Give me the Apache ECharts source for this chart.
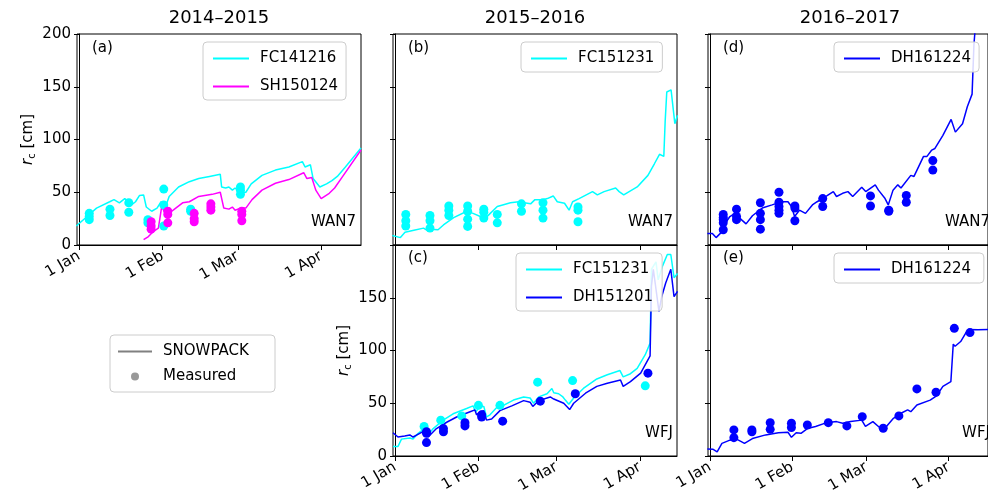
<!DOCTYPE html>
<html>
<head>
<meta charset="utf-8">
<script src="https://cdn.jsdelivr.net/npm/echarts@6/dist/echarts.min.js"></script>
<style>html,body{margin:0;padding:0;background:#fff;}#main{width:988px;height:502px;}</style>
</head>
<body>
<div id="main"></div>
<script>
// days since 1 Jan, value in cm
var fc141216 = [[-1,18],[3,27],[6.5,35],[11.4,41],[13,43],[15,40],[17,44],[19.5,38],[21,41],[22.5,47],[24,47.5],[25,36],[27,32],[29,35],[30.5,41],[32,35],[33.5,46],[37,55],[41,60],[44.5,63],[48.5,65],[52.5,67],[53,55],[54.5,54],[55.7,55],[57,52],[58,54],[60,49],[62,50],[64,58],[68,66],[73,71],[78,74],[83,79],[84,74],[86,76],[87,63],[89.5,55],[92,58],[94,61],[96,65],[99,74],[104.8,92]];
var sh150124 = [[24,5],[25.8,8],[27.7,13],[29.5,16],[30.7,36],[32.5,29],[35,33],[38.5,40],[41,41],[44.5,46],[49.5,48],[52.5,50],[53.8,35],[55.7,34],[57,36],[58,33],[60,35],[62,35],[64.3,43],[68,52],[73,58.5],[78,62],[83.5,68.5],[84.7,63],[86.5,64],[88,52],[90,44],[93,49],[95,54],[98,65],[104.8,90]];
var measFc141216 = [[3.8,30],[3.8,27],[3.8,24],[11.5,34],[11.5,28],[18.5,40],[18.5,31],[25.6,24],[25.6,21],[31.5,53],[31.5,38],[31.5,18],[41.5,34],[41.5,32],[60,55],[60,52],[60,48]];
var measSh150124 = [[26.8,22],[26.8,18],[26.8,15],[33,32],[33,29],[33,21],[42.8,30],[42.8,25],[42.8,22],[49,39],[49,36],[49,33],[60.5,32],[60.5,29],[60.5,23]];

var fc151231Wan = [[-1,9],[2,7],[3.7,12],[7,14],[10.6,16],[11.8,14],[13,15],[16,14.5],[18,19],[21.8,26],[26.7,32],[29,30],[31.7,27],[33.6,25.5],[35.4,30],[38,36.5],[40,38],[42.9,40],[46,41],[48,40],[50.4,39],[52,43],[55,43],[56.6,44],[58.8,46.5],[60.3,41],[63,39.6],[64.7,33],[66,41],[68.4,44],[73.4,50.6],[75.2,47.5],[77.7,50.6],[82,54],[83.3,50.6],[85,47.5],[86.4,49.7],[90,55],[94,66],[96.4,77],[98.3,86],[99.9,84],[100.4,117],[101,145],[102.6,147],[103.2,146],[104,115],[105,123]];
var measFc151231Wan = [[4,29],[4,23],[4,18],[13,28],[13,23],[13,16],[20,37],[20,33],[20,28],[27,37],[27,32],[27,24.5],[27,17.6],[33,34],[33,31],[33,25.5],[38,29],[38,21],[47,39],[47,32],[55,40],[55,33],[55,25.5],[68,36],[68,33],[68,22]];

var fc151231Wfj = [[-0.75,9],[1.1,9],[2.4,16],[5.5,17],[6.7,16],[8.6,21.5],[10.4,25],[11.7,18],[14.2,26],[17.9,34],[21.6,40],[26.6,45],[29,47.5],[30,42],[31.6,47],[33,47],[34,37],[35.3,39],[37.8,46],[40.3,48],[44,53],[47.8,56],[50.2,55],[51.5,50],[53.4,56],[56.5,59],[58.3,64],[59,60],[60.8,59],[62.4,56],[63.3,53],[64.6,49],[66.4,55],[70,64],[75,73],[78.9,77],[83.6,81],[84.8,75],[87.5,78],[90,83],[93,96],[94.8,107],[95.3,177],[97,184],[97.8,167],[99.4,180],[101.2,191],[102.5,191],[103.7,169],[105,173]];
var dh151201 = [[-0.75,22],[1.1,18],[3.6,19],[5.5,20],[6.7,18],[9.2,21.5],[11,24],[12.3,18],[15.4,26],[19.2,32],[22.9,37],[27.9,42],[29.7,43.7],[30.3,39],[31.6,42],[33,43],[34,34],[35.9,35],[39,43],[43.4,47.5],[47.8,52.5],[50.2,51],[51.2,47],[53.4,52.5],[57.7,56],[59,54],[62.7,50],[64.9,44],[66.4,50],[70.8,59.5],[75,66],[78.9,69],[83.8,72],[84.8,66],[87.5,70.5],[91.3,78.5],[94.8,95],[95.3,161],[96,177],[98.1,137],[99.1,151],[100.6,164],[102.5,177],[103.7,151],[105,156]];
var measFc151231Wfj = [[10.8,28],[17,34],[24.8,38],[31,48],[39,48],[53,70],[66,71.5],[93,66.5]];
var measDh151201 = [[11.7,23],[11.7,21.5],[11.7,12.7],[18,26],[18,23],[26,31.6],[26,28.5],[32.2,39],[32.2,37],[40,33],[54,52],[67,59],[94,78.5]];

var dh161224Wan = [[-1,11],[0.9,11],[2.3,7],[3.9,11],[5,17.6],[7.5,27],[9.4,30],[11.2,25.5],[13.6,20],[16,27.7],[19.7,35],[23.4,38],[27,41],[29.4,41],[30.7,36.5],[31.9,27],[33.7,33],[36,30],[38.6,38],[40.4,41],[44,46.5],[46.5,50.6],[47.7,46],[50,49],[52,50.6],[53.8,46],[57.2,54.7],[58.7,50.6],[62.3,57],[63.5,52],[66,44],[67.2,38],[69,52],[70.8,57],[72,54],[75.7,66],[76.9,65],[80.5,84],[81.8,84],[83.6,90],[84.8,91.5],[87.8,104],[90.9,119],[92.5,107],[95.2,115],[97,131],[98.8,143],[99.5,190],[100,206],[102,230],[105,240]];
var measDh161224Wan = [[5,29],[5,26],[5,24],[5,21],[5,14.5],[10,34],[10,27],[10,24],[19,40],[19,30],[19,24],[19,15],[26,50],[26,40.5],[26,36.5],[26,33],[26,30],[32,37],[32,35],[32,23],[42.5,44],[42.5,36.5],[60.5,46.5],[60.5,37],[67.4,33],[67.4,32],[74,47],[74,40.5],[84,80],[84,71]];
var dh161224Wfj = [[-1,6.6],[1.2,6.3],[2.7,4],[4.5,12],[7.5,15],[10,16],[11.8,13.6],[13,12],[16,16.5],[21,20],[25.8,22],[29.4,22.5],[30.7,17.7],[32.5,22],[34.3,21.5],[36.7,26],[39.8,28],[44,31.6],[47.7,32.6],[50,31],[53,32.6],[57.2,34],[58.6,28],[61.4,32.6],[63.5,28],[65,24.7],[66.5,28],[69,35.4],[72,40.5],[74.5,43.7],[75.7,42],[78,48.4],[83,53],[85.4,57],[87.8,66],[90.8,70.5],[91.7,106],[92.4,104],[94.5,108.5],[96.4,116.5],[97.6,120],[101,119.6],[105,120]];
var measDh161224Wfj = [[9,24.7],[9,17.4],[15.8,24.7],[15.8,23],[22.7,31.6],[22.7,25.3],[30.7,31],[30.7,27],[36.7,29.4],[44.6,31.6],[51.6,28.5],[57.4,37.3],[65.3,26.3],[71.2,38],[78,63.6],[85.2,60.4],[92.1,121],[98,117]];

var monthLabels = ['1 Jan', '1 Feb', '1 Mar', '1 Apr'];
var monthDays2015 = [0, 31, 59, 90];
var monthDays2016 = [0, 31, 60, 91];
var monthDays2017 = [0, 31, 59, 90];

var CYAN = '#00ffff', MAG = '#ff00ff', BLUE = '#0000ff';
var FONT = 'DejaVu Sans';

var chart = echarts.init(document.getElementById('main'));

var grids = [
    {left: 77, top: 34, width: 284, height: 211},
    {left: 393, top: 34, width: 284, height: 211},
    {left: 708, top: 34, width: 284, height: 211},
    {left: 393, top: 245, width: 284, height: 211},
    {left: 708, top: 245, width: 284, height: 211}
];
grids.forEach(function(g) { g.show = true; g.borderColor = '#000'; g.borderWidth = 1; g.backgroundColor = 'transparent'; });

function xAxis(i, days, showLabels) {
    return {
        type: 'value', gridIndex: i, min: -0.75, max: 104.8,
        splitLine: {show: false},
        axisLine: {show: true, lineStyle: {color: '#000'}},
        axisTick: {show: true, length: 5, lineStyle: {color: '#000'}, customValues: days},
        axisLabel: {
            show: showLabels, customValues: days, rotate: 30, fontSize: 15, color: '#000', fontFamily: FONT, margin: 10,
            formatter: function(v) { var k = days.indexOf(v); return k >= 0 ? monthLabels[k] : ''; }
        }
    };
}
function yAxis(i, showLabels, hideTop) {
    var ax = {
        type: 'value', gridIndex: i, min: 0, max: 200, interval: 50,
        splitLine: {show: false},
        axisLine: {show: true, lineStyle: {color: '#000'}},
        axisTick: {show: true, length: 5, lineStyle: {color: '#000'}},
        axisLabel: {
            show: showLabels, fontSize: 15, color: '#000', fontFamily: FONT, margin: 6,
            formatter: function(v) { return (hideTop && v === 200) ? '' : String(v); }
        }
    };
    if (showLabels) {
        ax.name = '{i|r}{s|c} [cm]';
        ax.nameLocation = 'middle';
        ax.nameGap = 40;
        ax.nameTextStyle = {fontSize: 15, color: '#000', fontFamily: FONT,
            rich: {i: {fontSize: 15, fontStyle: 'italic', fontFamily: FONT}, s: {fontSize: 10, fontFamily: FONT, padding: [8, 0, 0, 0]}}};
    }
    return ax;
}

function line(name, data, color, i) {
    return {name: name, type: 'line', data: data, xAxisIndex: i, yAxisIndex: i, symbol: 'none',
        lineStyle: {color: color, width: 1.5}, itemStyle: {color: color}, animation: false};
}
function dots(name, data, color, i) {
    return {name: name, type: 'scatter', data: data, xAxisIndex: i, yAxisIndex: i, symbolSize: 9,
        itemStyle: {color: color, opacity: 1}, animation: false, z: 3};
}

function legendBox(names, left, top) {
    return {
        data: names, orient: 'vertical', left: left, top: top, icon: 'rect', itemWidth: 36, itemHeight: 2,
        itemGap: 13, padding: [9, 8, 6, 10], backgroundColor: 'rgba(255,255,255,0.85)', borderColor: '#ccc', borderWidth: 1, borderRadius: 4,
        textStyle: {fontSize: 15, color: '#000', fontFamily: FONT, padding: [0, 0, 0, 6]}, selectedMode: false
    };
}

function txt(x, y, s, align) {
    return {type: 'text', x: x, y: y, style: {text: s, fontSize: 15, fill: '#000', fontFamily: FONT, align: align || 'left', verticalAlign: 'middle'}, z: 10};
}
function title(x, s) {
    return {type: 'text', x: x, y: 18, style: {text: s, fontSize: 18, fill: '#000', fontFamily: FONT, align: 'center', verticalAlign: 'middle'}};
}

var option = {
    animation: false,
    grid: grids,
    xAxis: [xAxis(0, monthDays2015, true), xAxis(1, monthDays2016, false), xAxis(2, monthDays2017, false), xAxis(3, monthDays2016, true), xAxis(4, monthDays2017, true)],
    yAxis: [yAxis(0, true, false), yAxis(1, false), yAxis(2, false), yAxis(3, true, true), yAxis(4, false)],
    legend: [
        legendBox(['FC141216', 'SH150124'], 203, 42),
        legendBox(['FC151231'], 521, 42),
        legendBox(['DH161224'], 834, 42),
        legendBox(['FC151231 ', 'DH151201'], 516, 253),
        legendBox(['DH161224 '], 834, 253),
        {
            data: ['SNOWPACK'], left: 118, top: 344, icon: 'rect', itemWidth: 34, itemHeight: 2, padding: 0, selectedMode: false,
            textStyle: {fontSize: 15, color: '#000', fontFamily: FONT, padding: [0, 0, 0, 6]}
        },
        {
            data: ['Measured'], left: 131, top: 369, icon: 'circle', itemWidth: 34, itemHeight: 8, padding: 0, selectedMode: false,
            textStyle: {fontSize: 15, color: '#000', fontFamily: FONT, padding: [0, 0, 0, 6]}
        }
    ],
    graphic: [
        {type: 'rect', shape: {x: 110, y: 335, width: 165, height: 57, r: 4}, style: {fill: '#fff', stroke: '#ccc', lineWidth: 1}, z: -1},
        title(219, '2014–2015'), title(535, '2015–2016'), title(850, '2016–2017'),
        txt(92, 48, '(a)'), txt(408, 48, '(b)'), txt(723, 48, '(d)'), txt(408, 258, '(c)'), txt(723, 258, '(e)'),
        txt(356, 222, 'WAN7', 'right'), txt(673, 222, 'WAN7', 'right'), txt(990, 222, 'WAN7', 'right'),
        txt(673, 433, 'WFJ', 'right'), txt(990, 433, 'WFJ', 'right')
    ],
    series: [
        line('FC141216', fc141216, CYAN, 0),
        line('SH150124', sh150124, MAG, 0),
        dots('m1', measFc141216, CYAN, 0),
        dots('m2', measSh150124, MAG, 0),
        line('FC151231', fc151231Wan, CYAN, 1),
        dots('m3', measFc151231Wan, CYAN, 1),
        line('DH161224', dh161224Wan, BLUE, 2),
        dots('m4', measDh161224Wan, BLUE, 2),
        line('FC151231 ', fc151231Wfj, CYAN, 3),
        line('DH151201', dh151201, BLUE, 3),
        dots('m5', measFc151231Wfj, CYAN, 3),
        dots('m6', measDh151201, BLUE, 3),
        line('DH161224 ', dh161224Wfj, BLUE, 4),
        dots('m7', measDh161224Wfj, BLUE, 4),
        // legend-only entries
        {name: 'SNOWPACK', type: 'line', data: [], xAxisIndex: 0, yAxisIndex: 0, symbol: 'none', lineStyle: {color: '#808080'}, itemStyle: {color: '#808080'}},
        {name: 'Measured', type: 'scatter', data: [], xAxisIndex: 0, yAxisIndex: 0, symbolSize: 9, itemStyle: {color: '#808080'}}
    ]
};
chart.setOption(option);
</script>
</body>
</html>
